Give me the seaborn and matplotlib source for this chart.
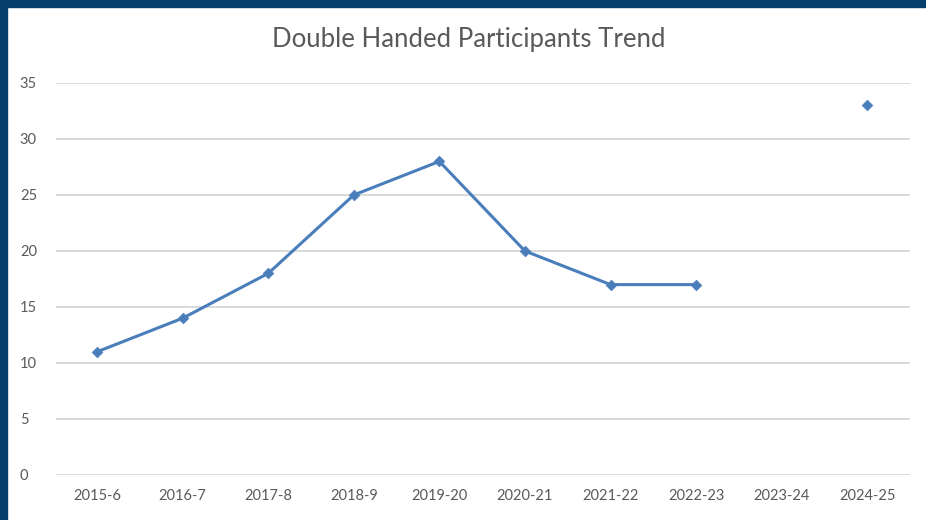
import numpy as np
import pandas as pd
import matplotlib.pyplot as plt
import seaborn as sns
from matplotlib.patches import Rectangle

seasons = ["2015-6", "2016-7", "2017-8", "2018-9", "2019-20",
           "2020-21", "2021-22", "2022-23", "2023-24", "2024-25"]
participants = [11, 14, 18, 25, 28, 20, 17, 17, np.nan, 33]
y_ticks = [0, 5, 10, 15, 20, 25, 30, 35]

LINE_BLUE = "#4a7ebb"
TEXT_GREY = "#595959"
GRID_GREY = "#d9d9d9"
FRAME_BLUE = "#063f6b"


def build_frame() -> pd.DataFrame:
    """Put the series in a frame, with a segment id so gaps break the line."""
    df = pd.DataFrame({"season": seasons, "value": participants})
    df["pos"] = np.arange(len(df))
    df["segment"] = df["value"].isna().cumsum()
    return df


def main():
    sns.set_theme(style="white")
    plt.rcParams["font.family"] = ["Lato", "DejaVu Sans"]

    df = build_frame()
    fig = plt.figure(figsize=(9.26, 5.2), dpi=100)
    ax = fig.add_axes([56 / 926, 45 / 520, 854 / 926, 392 / 520])

    # line segments (gap where a season is missing), then the markers
    sns.lineplot(data=df.dropna(), x="pos", y="value", units="segment",
                 estimator=None, color=LINE_BLUE, linewidth=2.2, ax=ax)
    sns.scatterplot(data=df.dropna(), x="pos", y="value", marker="D",
                    s=30, color=LINE_BLUE, edgecolor=LINE_BLUE, zorder=3, ax=ax)

    ax.set_xlim(-0.48, len(seasons) - 0.5)
    ax.set_ylim(0, 35)
    ax.set_xticks(df["pos"])
    ax.set_xticklabels(seasons)
    ax.set_yticks(y_ticks)
    ax.set_xlabel("")
    ax.set_ylabel("")
    ax.grid(axis="y", color=GRID_GREY, linewidth=1.4)
    ax.set_axisbelow(True)
    for side in ax.spines.values():
        side.set_visible(False)
    ax.tick_params(axis="both", length=0, labelsize=10.5, colors=TEXT_GREY)
    ax.tick_params(axis="x", pad=10)
    ax.tick_params(axis="y", pad=26)
    for lbl in ax.get_yticklabels():
        lbl.set_horizontalalignment("left")

    fig.text(469 / 926, 1 - 40 / 520, "Double Handed Participants Trend",
             ha="center", va="center", fontsize=18.5, color=TEXT_GREY)

    # dark frame along the top and left edges
    fig.patches.append(Rectangle((0, 1 - 7 / 520), 1, 7 / 520,
                                 transform=fig.transFigure, color=FRAME_BLUE))
    fig.patches.append(Rectangle((0, 0), 7 / 926, 1,
                                 transform=fig.transFigure, color=FRAME_BLUE))

    fig.savefig("out.png", dpi=100)


if __name__ == "__main__":
    main()
